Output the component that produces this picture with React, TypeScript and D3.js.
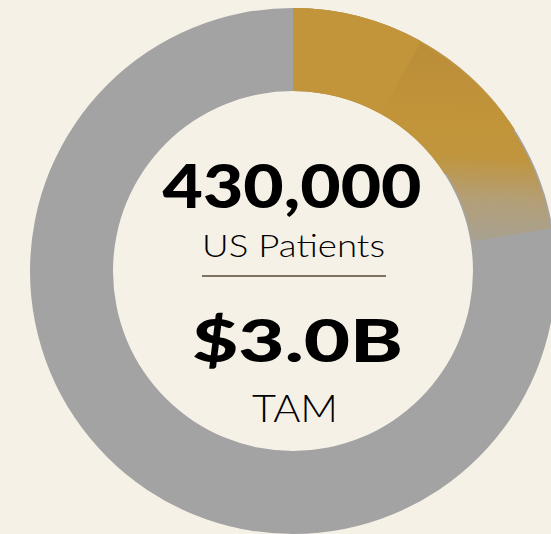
import React from "react";
import * as d3 from "d3";

// Data
const sliceLabels = ["Core addressable", "Extended addressable", "Remaining"];
const sliceValues = [8.1, 14.3, 77.6];
const headline = "430,000";
const headlineSub = "US Patients";
const tamValue = "$3.0B";
const tamSub = "TAM";

const W = 551;
const H = 534;
const cx = 293;
const cy = 271;
const rOuter = 263;
const rInner = 180;

const BG = "#f6f1e7";
const GRAY = "#a3a3a3";
const GOLD = "#c2953a";

export default function App() {
  const pie = d3.pie<number>().sort(null).value((d) => d);
  const arcs = pie(sliceValues);
  const arcGen = d3.arc<any>().innerRadius(rInner).outerRadius(rOuter);
  const insetArc = d3.arc<any>().innerRadius(rInner + 1.5).outerRadius(rOuter - 1.5);
  const full = arcGen({ startAngle: 0, endAngle: 2 * Math.PI }) as string;
  const a0 = arcs[0];
  const a1 = arcs[1];
  const underEnd = a0.endAngle + 0.55 * (a1.endAngle - a1.startAngle);
  const under = arcGen({ startAngle: a0.startAngle, endAngle: underEnd }) as string;

  return (
    <svg
      width={W}
      height={H}
      style={{ position: "absolute", left: 0, top: 0, display: "block" }}
    >
      <defs>
        <linearGradient id="fade" gradientUnits="userSpaceOnUse" x1={480 - cx} y1={30 - cy} x2={470 - cx} y2={242 - cy}>
          <stop offset="0" stopColor="#b98b39" />
          <stop offset="0.45" stopColor={GOLD} />
          <stop offset="0.6" stopColor="#c0953e" />
          <stop offset="0.8" stopColor="#b39f78" />
          <stop offset="1" stopColor="#a7a192" />
        </linearGradient>
      </defs>
      <rect x={0} y={0} width={W} height={H} fill={BG} />
      <g transform={`translate(${cx},${cy})`}>
        <path d={full} fill={GRAY} />
        <path d={under} fill={GOLD} />
        <path key={sliceLabels[0]} d={arcGen(a0) as string} fill={GOLD} />
        <path key={sliceLabels[1]} d={insetArc(a1) as string} fill="url(#fade)" />
      </g>
      <g fontFamily="Lato, 'Open Sans', sans-serif" fill="#000" textAnchor="middle">
        <text x={292} y={208} fontSize={60} fontWeight={900} textLength={259} lengthAdjust="spacingAndGlyphs">
          {headline}
        </text>
        <text x={293.5} y={257} fontSize={31} fontWeight={300} textLength={183} lengthAdjust="spacingAndGlyphs">
          {headlineSub}
        </text>
        <line x1={202} x2={386} y1={276} y2={276} stroke="#7d7264" strokeWidth={2} />
        <text x={297.5} y={362} fontSize={59} fontWeight={900} textLength={211} lengthAdjust="spacingAndGlyphs">
          {tamValue}
        </text>
        <text x={295} y={422} fontSize={37} fontWeight={300} textLength={86} lengthAdjust="spacingAndGlyphs">
          {tamSub}
        </text>
      </g>
    </svg>
  );
}
